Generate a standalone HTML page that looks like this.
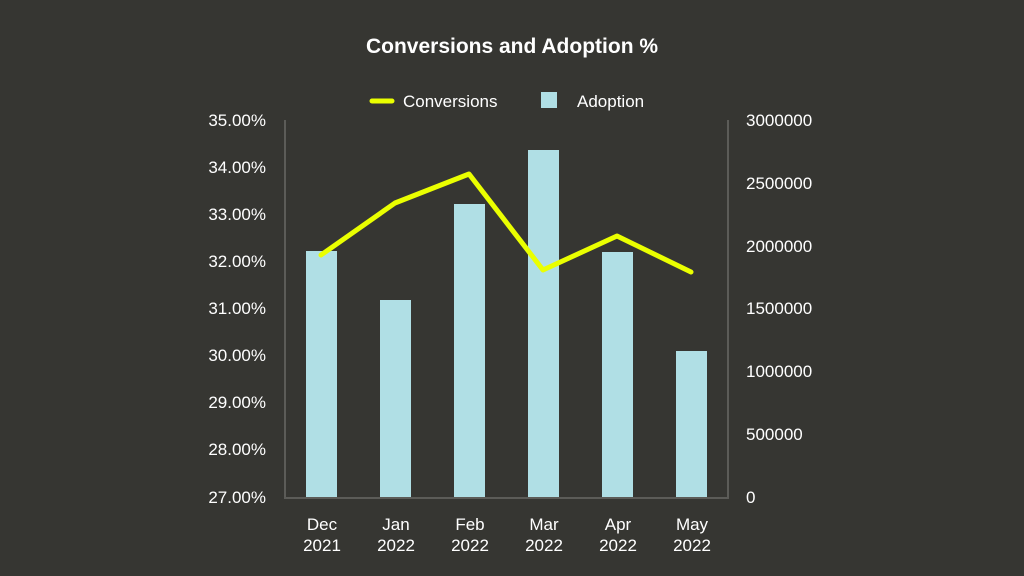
<!DOCTYPE html><html><head><style>body{margin:0;background:#363632;overflow:hidden}</style></head><body>
<svg width="1024" height="576" xmlns="http://www.w3.org/2000/svg" font-family="Liberation Sans, sans-serif" style="display:block">
<rect width="1024" height="576" fill="#363632"/>
<text x="512" y="53" text-anchor="middle" fill="#fff" font-size="21" font-weight="bold">Conversions and Adoption %</text>
<line x1="372" y1="101" x2="392" y2="101" stroke="#eaff00" stroke-width="5" stroke-linecap="round"/>
<text x="403" y="107" fill="#fff" font-size="17">Conversions</text>
<rect x="541" y="92" width="16" height="16" fill="#b0dfe5"/>
<text x="577" y="107" fill="#fff" font-size="17">Adoption</text>
<g fill="#fff" font-size="17" text-anchor="end">
<text x="266" y="126">35.00%</text><text x="266" y="173">34.00%</text><text x="266" y="220">33.00%</text><text x="266" y="267">32.00%</text><text x="266" y="314">31.00%</text><text x="266" y="361">30.00%</text><text x="266" y="408">29.00%</text><text x="266" y="455">28.00%</text><text x="266" y="503">27.00%</text>
</g>
<g fill="#fff" font-size="17">
<text x="746" y="126">3000000</text><text x="746" y="189">2500000</text><text x="746" y="252">2000000</text><text x="746" y="314">1500000</text><text x="746" y="377">1000000</text><text x="746" y="440">500000</text><text x="746" y="503">0</text>
</g>
<g fill="#b0dfe5">
<rect x="306" y="251" width="31" height="247"/><rect x="380" y="300" width="31" height="198"/><rect x="454" y="204" width="31" height="294"/><rect x="528" y="150" width="31" height="348"/><rect x="602" y="252" width="31" height="246"/><rect x="676" y="351" width="31" height="147"/>
</g>
<path d="M285 120V498H728V120" fill="none" stroke="#5c5c58" stroke-width="2"/>
<polyline points="321,255 395,203 469,174 543,270 617,236 691,272" fill="none" stroke="#eaff00" stroke-width="5" stroke-linejoin="round" stroke-linecap="round"/>
<g fill="#fff" font-size="17" text-anchor="middle">
<text x="322" y="530">Dec</text><text x="322" y="551">2021</text>
<text x="396" y="530">Jan</text><text x="396" y="551">2022</text>
<text x="470" y="530">Feb</text><text x="470" y="551">2022</text>
<text x="544" y="530">Mar</text><text x="544" y="551">2022</text>
<text x="618" y="530">Apr</text><text x="618" y="551">2022</text>
<text x="692" y="530">May</text><text x="692" y="551">2022</text>
</g>
</svg></body></html>
